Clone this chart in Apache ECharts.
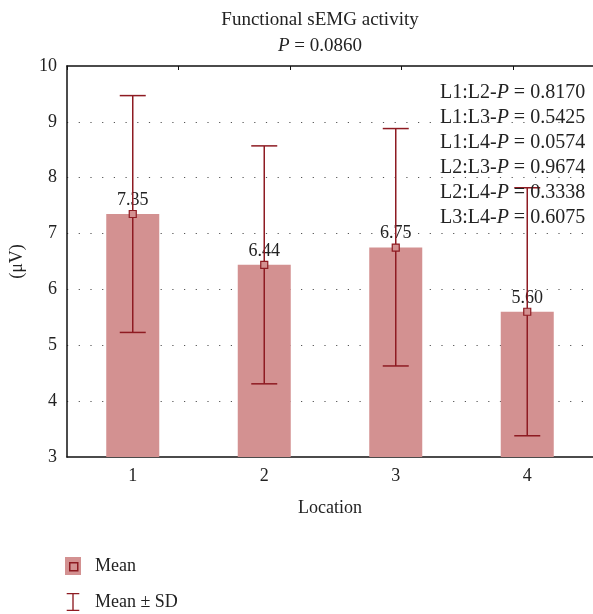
<!DOCTYPE html>
<html><head><meta charset="utf-8">
<script src="https://cdn.jsdelivr.net/npm/echarts@6/dist/echarts.min.js"></script>
<style>html,body{margin:0;padding:0;background:#fff}#c{width:593px;height:614px}</style>
</head><body><div id="c"></div>
<script>
const categories = ['1', '2', '3', '4'];
const means = [7.35, 6.44, 6.75, 5.60];
const sdUpper = [9.47, 8.57, 8.88, 7.82];
const sdLower = [5.23, 4.31, 4.63, 3.38];
const yTicks = [3, 4, 5, 6, 7, 8, 9, 10];
const pairs = ['L1:L2', 'L1:L3', 'L1:L4', 'L2:L3', 'L2:L4', 'L3:L4'];
const pairP = ['0.8170', '0.5425', '0.0574', '0.9674', '0.3338', '0.6075'];
const overallP = '0.0860';

const FONT = '"Liberation Serif", "DejaVu Serif", serif';
const BAR = '#d39191';
const DARK = '#8e1b22';

const chart = echarts.init(document.getElementById('c'), null, {renderer: 'canvas'});
const annText = pairs.map((p, i) => `{n|${p}-}{i|P}{n| = ${pairP[i]}}`).join('\n');

chart.setOption({
  animation: false,
  textStyle: {fontFamily: FONT},
  title: [{
    text: `{t|Functional sEMG activity}\n{i|P}{t| = ${overallP}}`,
    left: 315, top: 2, textAlign: 'center',
    textStyle: {
      fontWeight: 'normal',
      rich: {
        t: {fontFamily: FONT, fontSize: 19, fontWeight: 'normal', color: '#222', lineHeight: 26},
        i: {fontFamily: FONT, fontSize: 19, fontWeight: 'normal', fontStyle: 'italic', color: '#222', lineHeight: 26}
      }
    }
  }, {
    text: annText,
    left: 435, top: 75,
    textStyle: {
      fontWeight: 'normal',
      rich: {
        n: {fontFamily: FONT, fontSize: 20, fontWeight: 'normal', color: '#222', lineHeight: 25},
        i: {fontFamily: FONT, fontSize: 20, fontWeight: 'normal', fontStyle: 'italic', color: '#222', lineHeight: 25}
      }
    }
  }],
  grid: {left: 67, right: -4, top: 66, bottom: 157, containLabel: false},
  legend: {
    orient: 'vertical', left: 65, top: 557, itemGap: 18, padding: 0, height: 60,
    itemWidth: 16, itemHeight: 18,
    textStyle: {fontFamily: FONT, fontSize: 18, color: '#222', padding: [0, 0, 0, 9]},
    data: [
      {name: 'Mean', icon: 'rect', itemStyle: {color: BAR}},
      {name: 'Mean \u00b1 SD', icon: 'path://M0,0 H14 V1.5 H7.75 V18.5 H14 V20 H0 V18.5 H6.25 V1.5 H0 Z', itemStyle: {color: DARK}}
    ]
  },
  graphic: [{
    type: 'rect', left: 69, top: 562, z: 100,
    shape: {width: 8, height: 8},
    style: {fill: BAR, stroke: DARK, lineWidth: 1.5}
  }],
  xAxis: [{
    type: 'category', data: categories, position: 'bottom',
    name: 'Location', nameLocation: 'middle', nameGap: 42,
    nameTextStyle: {fontFamily: FONT, fontSize: 18, color: '#222'},
    axisLine: {lineStyle: {color: '#111', width: 1.5}},
    axisTick: {alignWithLabel: true, inside: true, length: 4, lineStyle: {color: '#111'}},
    axisLabel: {fontFamily: FONT, fontSize: 18, color: '#222', margin: 10}
  }, {
    type: 'value', position: 'top', min: 0, max: 4.72, interval: 1,
    axisLine: {show: true, lineStyle: {color: '#111', width: 1.5}},
    axisTick: {show: true, inside: true, length: 4, lineStyle: {color: '#111'}},
    axisLabel: {show: false}, splitLine: {show: false}
  }],
  yAxis: {
    type: 'value', min: yTicks[0], max: yTicks[yTicks.length - 1], interval: 1,
    name: '(\u03bcV)', nameLocation: 'middle', nameGap: 41,
    nameTextStyle: {fontFamily: FONT, fontSize: 18, color: '#222'},
    axisLine: {show: true, lineStyle: {color: '#111', width: 1.5}},
    axisTick: {show: false},
    axisLabel: {fontFamily: FONT, fontSize: 18, color: '#222', margin: 10},
    splitLine: {show: true, showMaxLine: false, showMinLine: false,
      lineStyle: {color: '#555', type: [1.2, 10.5], width: 1.2}}
  },
  series: [{
    name: 'Mean', type: 'bar', data: means, barWidth: 53,
    itemStyle: {color: BAR},
    label: {show: true, position: 'top', distance: 5,
      formatter: p => p.value.toFixed(2),
      fontFamily: FONT, fontSize: 18, color: '#222'},
    z: 2
  }, {
    name: 'Mean \u00b1 SD', type: 'custom',
    data: categories.map((c, i) => [i, sdLower[i], sdUpper[i]]),
    renderItem: (params, api) => {
      const x = api.value(0);
      const lo = api.coord([x, api.value(1)]);
      const hi = api.coord([x, api.value(2)]);
      const hw = 13;
      const st = {stroke: DARK, lineWidth: 1.5};
      return {type: 'group', children: [
        {type: 'line', shape: {x1: lo[0], y1: lo[1], x2: hi[0], y2: hi[1]}, style: st},
        {type: 'line', shape: {x1: lo[0] - hw, y1: lo[1], x2: lo[0] + hw, y2: lo[1]}, style: st},
        {type: 'line', shape: {x1: hi[0] - hw, y1: hi[1], x2: hi[0] + hw, y2: hi[1]}, style: st}
      ]};
    },
    itemStyle: {color: DARK},
    z: 3
  }, {
    name: 'meanMarker', type: 'scatter', data: means,
    symbol: 'rect', symbolSize: 7,
    itemStyle: {color: BAR, borderColor: DARK, borderWidth: 1.2, opacity: 1},
    z: 4
  }]
});
</script>
</body></html>
